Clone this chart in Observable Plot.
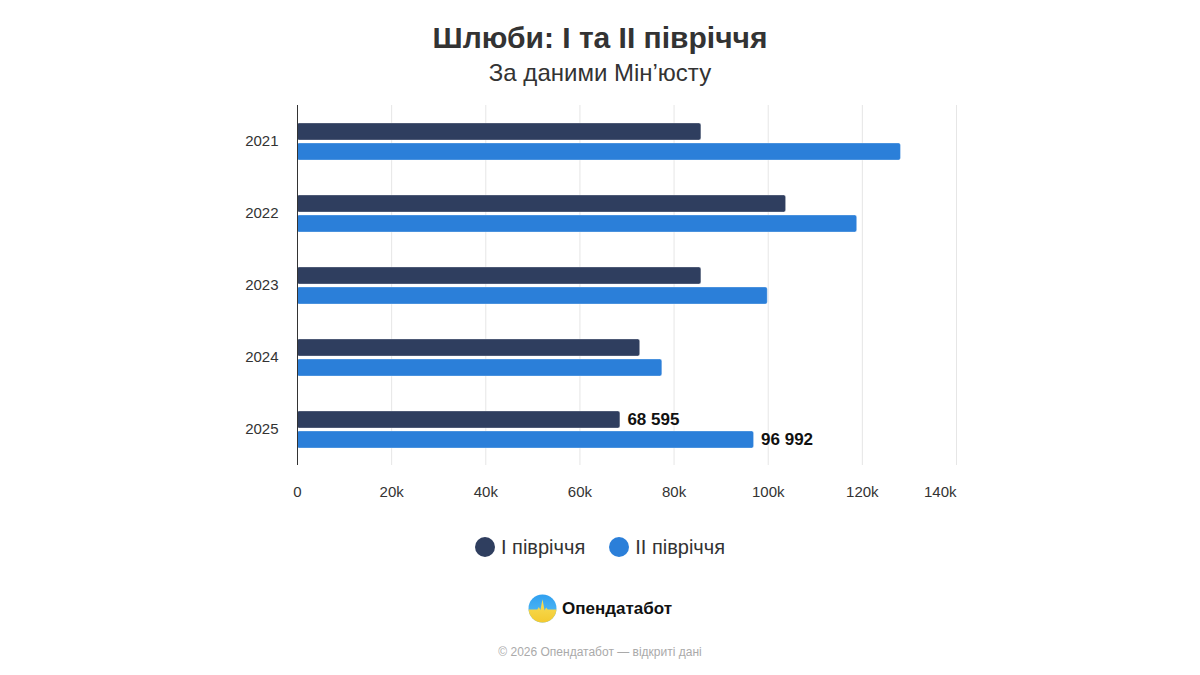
<!DOCTYPE html>
<html>
<head>
<meta charset="utf-8">
<script src="https://cdn.jsdelivr.net/npm/d3@7"></script>
<script src="https://cdn.jsdelivr.net/npm/@observablehq/plot@0.6"></script>
<style>
  html, body { margin: 0; padding: 0; background: #fff; }
  body { width: 1200px; height: 675px; position: relative; font-family: "Liberation Sans", Arial, sans-serif; overflow: hidden; }
  .abs { position: absolute; left: 0; width: 1200px; text-align: center; }
  #title { top: 20px; font-size: 30px; font-weight: bold; color: #333; line-height: 36px; }
  #subtitle { top: 59px; font-size: 24px; color: #333; line-height: 28px; }
  #chart { top: 94px; text-align: left; }
  #legend { top: 536px; font-size: 20px; color: #333; display: flex; justify-content: center; gap: 24px; line-height: 22px; }
  #legend .item { display: flex; align-items: center; gap: 6px; }
  #legend .dot { width: 20px; height: 20px; border-radius: 50%; display: inline-block; }
  #logo { top: 594px; display: flex; justify-content: center; align-items: center; gap: 5px; font-size: 17px; font-weight: bold; color: #111; }
  #footer { top: 645px; font-size: 12px; color: #aaa; line-height: 14px; }
</style>
</head>
<body>
<div id="title" class="abs">Шлюби: І та ІІ півріччя</div>
<div id="subtitle" class="abs">За даними Мін’юсту</div>
<div id="chart" class="abs"></div>
<div id="legend" class="abs"></div>
<div id="logo" class="abs">
  <svg width="29" height="29" viewBox="0 0 28 28">
    <defs>
      <clipPath id="cc"><circle cx="14" cy="14" r="13.5"/></clipPath>
      <linearGradient id="lb" x1="0" y1="0" x2="0" y2="1">
        <stop offset="0" stop-color="#2f9ff0"/>
        <stop offset="1" stop-color="#5cc2f5"/>
      </linearGradient>
      <linearGradient id="ly" x1="0" y1="0" x2="0" y2="1">
        <stop offset="0" stop-color="#f7df5a"/>
        <stop offset="1" stop-color="#f4c92e"/>
      </linearGradient>
    </defs>
    <g clip-path="url(#cc)">
      <rect x="0" y="0" width="28" height="28" fill="url(#lb)"/>
      <path d="M0 15 L9 15 L10.5 12.5 L12 15.5 L14 5 L16 16 L17.5 13 L19 15 L28 15 L28 28 L0 28 Z" fill="url(#ly)"/>
    </g>
  </svg>
  <span>Опендатабот</span>
</div>
<div id="footer" class="abs">© 2026 Опендатабот — відкриті дані</div>
<script>
const years = ["2021", "2022", "2023", "2024", "2025"];
const seriesNames = ["І півріччя", "ІІ півріччя"];
const firstHalf = [85800, 103800, 85800, 72800, 68595];
const secondHalf = [128200, 118900, 99900, 77500, 96992];
const seriesColors = ["#2f3e5f", "#2b7fd9"];
const xTicks = [0, 20000, 40000, 60000, 80000, 100000, 120000, 140000];
const labeledYear = "2025";

const data = years.flatMap((y, i) => [
  {year: y, series: seriesNames[0], value: firstHalf[i]},
  {year: y, series: seriesNames[1], value: secondHalf[i]}
]);

const fmt = v => d3.format(",")(v).replace(/,/g, " ");
const kfmt = d => d === 0 ? "0" : (d / 1000) + "k";

const chart = Plot.plot({
  width: 1200,
  height: 420,
  marginTop: 11,
  marginBottom: 49,
  marginLeft: 297,
  marginRight: 244,
  style: {fontFamily: "Liberation Sans, Arial, sans-serif", fontSize: "15px", color: "#333", background: "transparent"},
  x: {domain: [0, 140000], label: null},
  fy: {domain: years, padding: 0, label: null, axis: "left", tickSize: 0, tickPadding: 19},
  y: {domain: seriesNames, axis: null, paddingInner: 0.15, paddingOuter: 0.875},
  color: {domain: seriesNames, range: seriesColors},
  marks: [
    Plot.gridX(xTicks, {stroke: "#e6e6e6", strokeOpacity: 1, strokeWidth: 1}),
    Plot.axisX(xTicks.slice(0, -1), {tickFormat: kfmt, tickSize: 0, tickPadding: 21, label: null, fontSize: 15}),
    Plot.axisX(xTicks.slice(-1), {tickFormat: kfmt, tickSize: 0, tickPadding: 21, label: null, textAnchor: "end", fontSize: 15}),
    Plot.barX(data, {fy: "year", y: "series", x: "value", fill: "series", stroke: "#ffffff", strokeOpacity: 0.3, strokeWidth: 1, rx: 2}),
    Plot.text(data.filter(d => d.year === labeledYear), {fy: "year", y: "series", x: "value", text: d => fmt(d.value), dx: 7, textAnchor: "start", fontWeight: "bold", fontSize: 17, fill: "#111"}),
    Plot.ruleX([0], {stroke: "#333", strokeWidth: 1})
  ]
});
document.getElementById("chart").appendChild(chart);

const legend = document.getElementById("legend");
seriesNames.forEach((s, i) => {
  const item = document.createElement("span");
  item.className = "item";
  const dot = document.createElement("span");
  dot.className = "dot";
  dot.style.background = seriesColors[i];
  const t = document.createElement("span");
  t.textContent = s;
  item.appendChild(dot);
  item.appendChild(t);
  legend.appendChild(item);
});
</script>
</body>
</html>
